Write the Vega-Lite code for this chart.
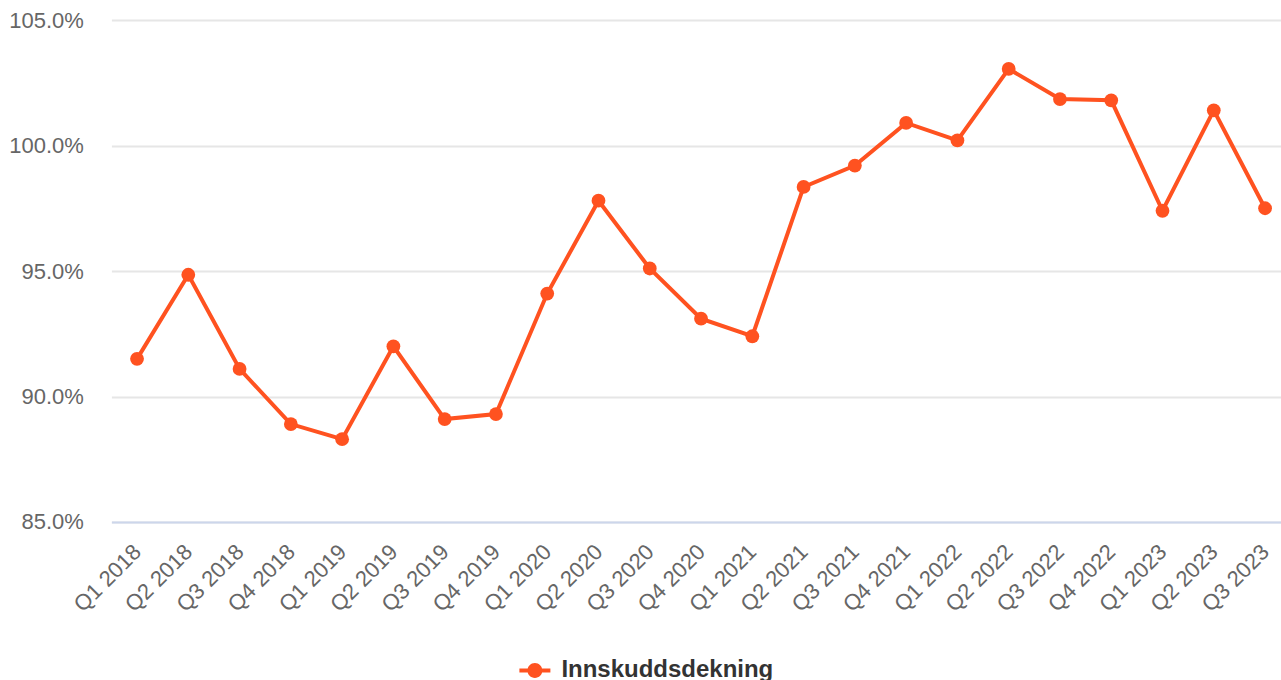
{
  "$schema": "https://vega.github.io/schema/vega-lite/v6.json",
  "width": 1179.3,
  "height": 502,
  "autosize": {"type": "none"},
  "padding": {"left": 111.4, "top": 20, "right": 0, "bottom": 158},
  "background": "white",
  "data": {"values": [
    {"q": "Q1 2018", "v": 91.5, "s": "Innskuddsdekning"},
    {"q": "Q2 2018", "v": 94.85, "s": "Innskuddsdekning"},
    {"q": "Q3 2018", "v": 91.1, "s": "Innskuddsdekning"},
    {"q": "Q4 2018", "v": 88.9, "s": "Innskuddsdekning"},
    {"q": "Q1 2019", "v": 88.3, "s": "Innskuddsdekning"},
    {"q": "Q2 2019", "v": 92.0, "s": "Innskuddsdekning"},
    {"q": "Q3 2019", "v": 89.1, "s": "Innskuddsdekning"},
    {"q": "Q4 2019", "v": 89.3, "s": "Innskuddsdekning"},
    {"q": "Q1 2020", "v": 94.1, "s": "Innskuddsdekning"},
    {"q": "Q2 2020", "v": 97.8, "s": "Innskuddsdekning"},
    {"q": "Q3 2020", "v": 95.1, "s": "Innskuddsdekning"},
    {"q": "Q4 2020", "v": 93.1, "s": "Innskuddsdekning"},
    {"q": "Q1 2021", "v": 92.4, "s": "Innskuddsdekning"},
    {"q": "Q2 2021", "v": 98.35, "s": "Innskuddsdekning"},
    {"q": "Q3 2021", "v": 99.2, "s": "Innskuddsdekning"},
    {"q": "Q4 2021", "v": 100.9, "s": "Innskuddsdekning"},
    {"q": "Q1 2022", "v": 100.2, "s": "Innskuddsdekning"},
    {"q": "Q2 2022", "v": 103.05, "s": "Innskuddsdekning"},
    {"q": "Q3 2022", "v": 101.85, "s": "Innskuddsdekning"},
    {"q": "Q4 2022", "v": 101.8, "s": "Innskuddsdekning"},
    {"q": "Q1 2023", "v": 97.4, "s": "Innskuddsdekning"},
    {"q": "Q2 2023", "v": 101.4, "s": "Innskuddsdekning"},
    {"q": "Q3 2023", "v": 97.5, "s": "Innskuddsdekning"}
  ]},
  "encoding": {
    "x": {
      "field": "q", "type": "ordinal", "sort": null,
      "scale": {"type": "point", "padding": 0.5},
      "axis": {
        "title": null, "labelAngle": -45, "labelAlign": "right", "labelBaseline": "middle",
        "labelFont": "Liberation Sans", "labelFontSize": 22, "labelColor": "#666666",
        "labelPadding": 26, "labelDx": 4, "ticks": false, "grid": false,
        "domainColor": "#ccd6eb", "domainWidth": 2, "labelOverlap": false
      }
    },
    "y": {
      "field": "v", "type": "quantitative",
      "scale": {"domain": [85, 105], "nice": false, "zero": false},
      "axis": {
        "title": null, "values": [85, 90, 95, 100, 105],
        "labelExpr": "format(datum.value, '.1f') + '%'",
        "labelFont": "Liberation Sans", "labelFontSize": 22, "labelColor": "#666666",
        "labelPadding": 28, "ticks": false, "domain": false,
        "gridColor": "#e6e6e6", "gridWidth": 2
      }
    },
    "color": {
      "field": "s", "type": "nominal",
      "scale": {"range": ["#ff5220"]},
      "legend": {
        "title": null, "orient": "none", "legendX": 408, "legendY": 635,
        "symbolType": "M-1,-0.13H1V0.13H-1Z M0.48,0 A0.48,0.48 0 1,1 -0.48,0 A0.48,0.48 0 1,1 0.48,0 Z",
        "symbolSize": 961, "symbolStrokeWidth": 0, "symbolOpacity": 1,
        "labelFont": "Liberation Sans", "labelFontSize": 24, "labelFontWeight": "bold",
        "labelColor": "#333333", "labelOffset": 11, "labelLimit": 0
      }
    }
  },
  "layer": [
    {"mark": {"type": "line", "strokeWidth": 4}},
    {"mark": {"type": "point", "filled": true, "opacity": 1, "size": 190, "shape": "circle"}}
  ],
  "config": {"view": {"stroke": null}, "legend": {"symbolFillColor": "#ff5220"}}
}
